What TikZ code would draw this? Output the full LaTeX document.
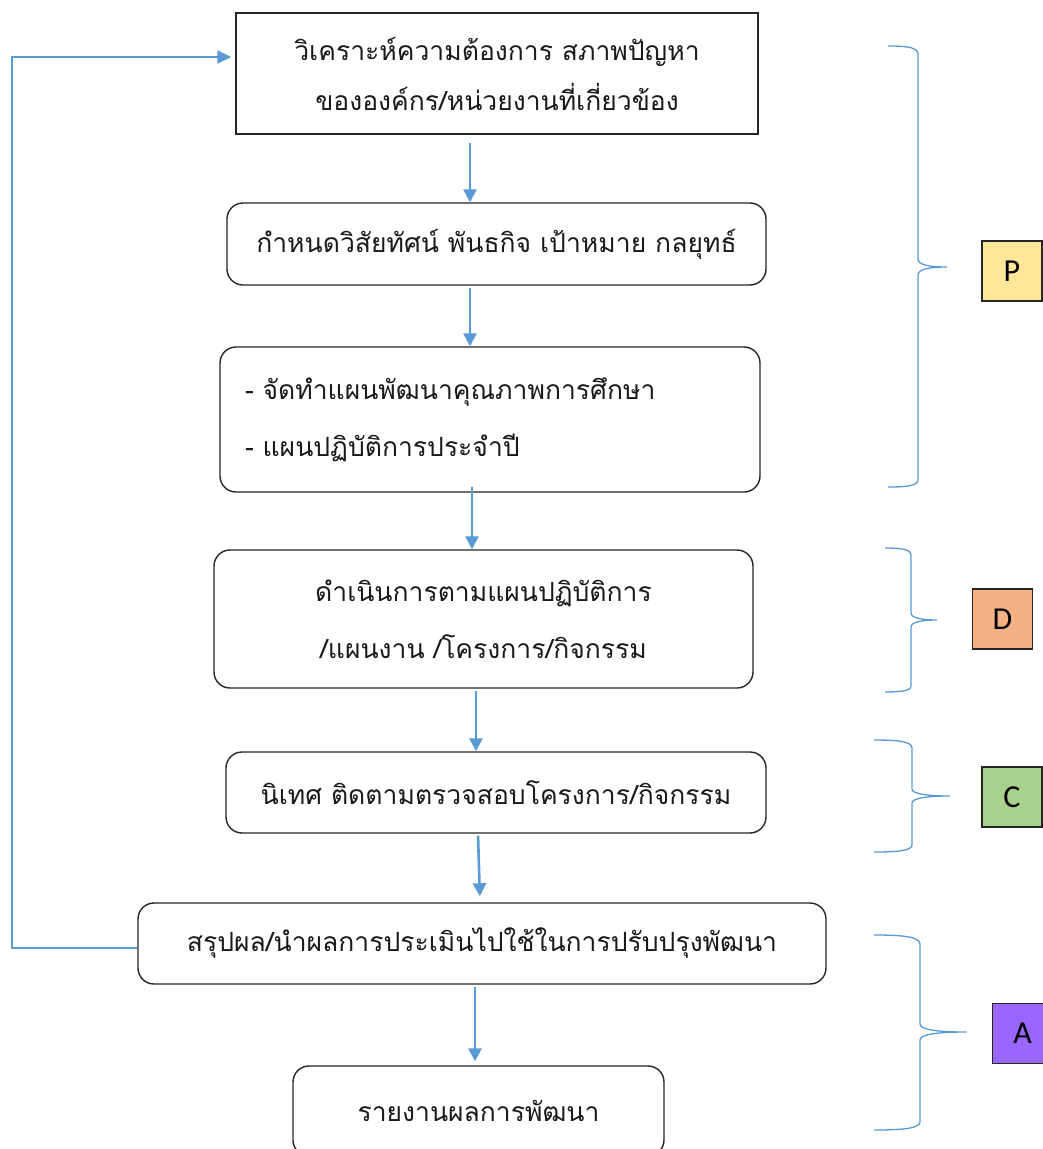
\documentclass[tikz,border=0pt]{standalone}
\usepackage{fontspec}
\setmainfont{Carlito}
\newfontfamily\thaifont[Script=Thai]{Loma}
\usetikzlibrary{arrows.meta,calc}
\definecolor{arrblue}{HTML}{5B9BD5}
\definecolor{pfill}{HTML}{FFE699}
\definecolor{dfill}{HTML}{F4B183}
\definecolor{cfill}{HTML}{A9D18E}
\definecolor{afill}{HTML}{9966FF}
\definecolor{txt}{HTML}{1A1A1A}
\tikzset{
  sqbox/.style={draw=black!85, line width=1.4pt, text=txt, font=\thaifont\fontsize{26.5}{50}\selectfont, align=center},
  rbox/.style={sqbox, rounded corners=16pt},
  arr/.style={draw=arrblue, line width=2.6pt, -{Triangle[length=13pt,width=13pt]}},
  fb/.style={draw=arrblue, line width=1.7pt, -{Triangle[length=14pt,width=13pt]}},
  brace/.style={draw=arrblue, line width=1.3pt},
  letter/.style={draw=black!85, line width=1.2pt, minimum width=60pt, minimum height=60pt, font=\fontsize{32}{38}\selectfont, text=black}
}
\begin{document}
\begin{tikzpicture}[x=1pt,y=-1pt]
\useasboundingbox (0,0) rectangle (1043,1149);
\clip (0,0) rectangle (1043,1149);
\fill[white] (0,0) rectangle (1043,1149);

% boxes
\node[sqbox, minimum width=522pt, minimum height=121pt] (b1) at (497,73.5)
  {วิเคราะห์ความต้องการ สภาพปัญหา\\ขององค์กร/หน่วยงานที่เกี่ยวข้อง};
\node[rbox, minimum width=539pt, minimum height=82pt] (b2) at (496.5,244)
  {กำหนดวิสัยทัศน์ พันธกิจ เป้าหมาย กลยุทธ์};
\node[rbox, font=\thaifont\fontsize{26.5}{57}\selectfont, text width=490pt, inner xsep=25pt, align=left, minimum height=145pt] (b3) at (490,419.5)
  {- จัดทำแผนพัฒนาคุณภาพการศึกษา\\- แผนปฏิบัติการประจำปี};
\node[rbox, font=\thaifont\fontsize{26.5}{57}\selectfont, minimum width=539pt, minimum height=138pt] (b4) at (483.5,619)
  {ดำเนินการตามแผนปฏิบัติการ\\/แผนงาน /โครงการ/กิจกรรม};
\node[rbox, minimum width=540pt, minimum height=81pt] (b5) at (496,792.5)
  {นิเทศ ติดตามตรวจสอบโครงการ/กิจกรรม};
\node[rbox, minimum width=688pt, minimum height=81pt] (b6) at (482,943.5)
  {สรุปผล/นำผลการประเมินไปใช้ในการปรับปรุงพัฒนา};
\node[rbox, minimum width=371pt, minimum height=90pt] (b7) at (478.5,1111)
  {รายงานผลการพัฒนา};

% arrows
\draw[arr, shorten <=8pt] ([xshift=-27pt]b1.south) -- ([xshift=-26.5pt]b2.north);
\draw[arr, shorten <=2pt] ([xshift=-26.5pt]b2.south) -- ([xshift=-20pt]b3.north);
\draw[arr, shorten <=-6pt] ([xshift=-18pt]b3.south) -- ([xshift=-11.5pt]b4.north);
\draw[arr, shorten <=2pt] ([xshift=-7.5pt]b4.south) -- ([xshift=-20pt]b5.north);
\draw[arr, shorten <=2pt, shorten >=6pt] ([xshift=-18pt]b5.south) -- ([xshift=-2pt]b6.north);
\draw[arr, shorten <=2pt, shorten >=4pt] ([xshift=-7pt]b6.south) -- ([xshift=-3.5pt]b7.north);

% feedback loop
\coordinate (lb) at (12,948);
\draw[fb, shorten >=4pt] ([yshift=-4.5pt]b6.west) -- (lb) |- ([yshift=16.5pt]b1.west);

% braces
\draw[brace] (888,46) .. controls (905,46) and (918,47) .. (918,54) -- (918,259)
  .. controls (918,265) and (930,267) .. (947,267)
  .. controls (930,267) and (918,269) .. (918,275) -- (918,480)
  .. controls (918,486) and (905,487) .. (888,487);
\draw[brace] (885,548) .. controls (900,548) and (911,549) .. (911,555) -- (911,613)
  .. controls (911,618) and (922,620) .. (937,620)
  .. controls (922,620) and (911,622) .. (911,627) -- (911,686)
  .. controls (911,691) and (900,692) .. (885,692);
\draw[brace] (874,740) .. controls (895,740) and (912,741) .. (912,748) -- (912,789)
  .. controls (912,794) and (928,796) .. (950,796)
  .. controls (928,796) and (912,798) .. (912,803) -- (912,845)
  .. controls (912,851) and (895,852) .. (874,852);
\draw[brace] (874,935) .. controls (898,935) and (920,936) .. (920,944) -- (920,1024)
  .. controls (920,1030) and (940,1032) .. (966,1032)
  .. controls (940,1032) and (920,1034) .. (920,1040) -- (920,1122)
  .. controls (920,1129) and (898,1130) .. (874,1130);

% letters
\node[letter, fill=pfill] (P) at (1012,271) {P};
\node[letter, fill=dfill] (D) at (1002.5,619) {D};
\node[letter, fill=cfill] (C) at (1012,797) {C};
\node[letter, fill=afill] (A) at (1022.5,1033.5) {A};
\end{tikzpicture}
\end{document}
